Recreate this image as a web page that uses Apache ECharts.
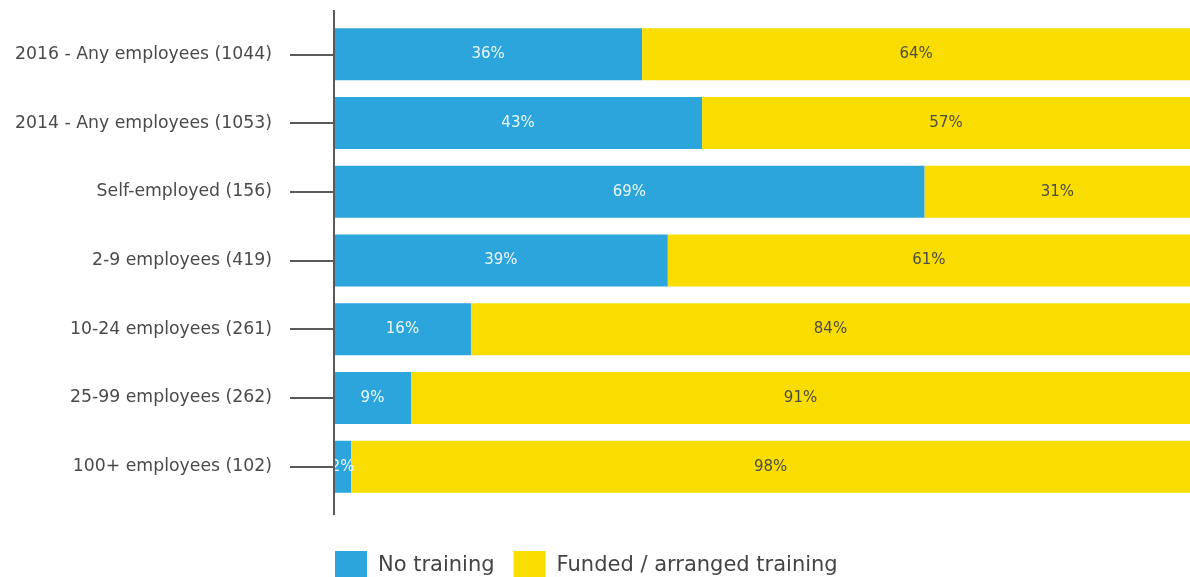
<!DOCTYPE html>
<html>
<head>
<meta charset="utf-8">
<script src="https://cdn.jsdelivr.net/npm/echarts@6/dist/echarts.min.js"></script>
<style>html,body{margin:0;padding:0;background:#fff;}#c{width:1190px;height:577px;}</style>
</head>
<body>
<div id="c"></div>
<script>
const categories = ["2016 - Any employees (1044)", "2014 - Any employees (1053)", "Self-employed (156)", "2-9 employees (419)", "10-24 employees (261)", "25-99 employees (262)", "100+ employees (102)"];
const noTraining = [36, 43, 69, 39, 16, 9, 2];
const funded = [64, 57, 31, 61, 84, 91, 98];
const seriesNames = ["No training", "Funded / arranged training"];

const chart = echarts.init(document.getElementById('c'), null, {renderer: 'canvas'});
const font = '"DejaVu Sans", "Noto Sans", sans-serif';
chart.setOption({
  animation: false,
  textStyle: {fontFamily: font},
  grid: {left: 334, top: 20, width: 860, height: 481},
  xAxis: {type: 'value', min: 0, max: 100, show: false},
  yAxis: {
    type: 'category', data: categories, inverse: true,
    axisLine: {show: false},
    axisTick: {show: true, length: 44, alignWithLabel: true, lineStyle: {color: '#5a5a5a', width: 2}},
    axisLabel: {margin: 62, color: '#4a4a4a', fontSize: 17.3, fontFamily: font}
  },
  legend: {
    left: 330, top: 546, itemWidth: 32, itemHeight: 30, itemGap: 19,
    icon: 'rect',
    textStyle: {fontSize: 21, color: '#444', fontFamily: font, padding: [0, 0, 0, 6]},
    data: seriesNames
  },
  graphic: [{type: 'line', shape: {x1: 334, y1: 10, x2: 334, y2: 515}, style: {stroke: '#5a5a5a', lineWidth: 2}, z: 100}],
  series: [
    {name: seriesNames[0], type: 'bar', stack: 't', data: noTraining, barWidth: 52,
     itemStyle: {color: '#2ca5dd'},
     label: {show: true, position: 'inside', color: '#eef7fc', fontSize: 15, formatter: '{c}%'}},
    {name: seriesNames[1], type: 'bar', stack: 't', data: funded, barWidth: 52,
     itemStyle: {color: '#f9dc00'},
     label: {show: true, position: 'inside', color: '#4d4d40', fontSize: 15, formatter: '{c}%'}}
  ]
});
</script>
</body>
</html>
